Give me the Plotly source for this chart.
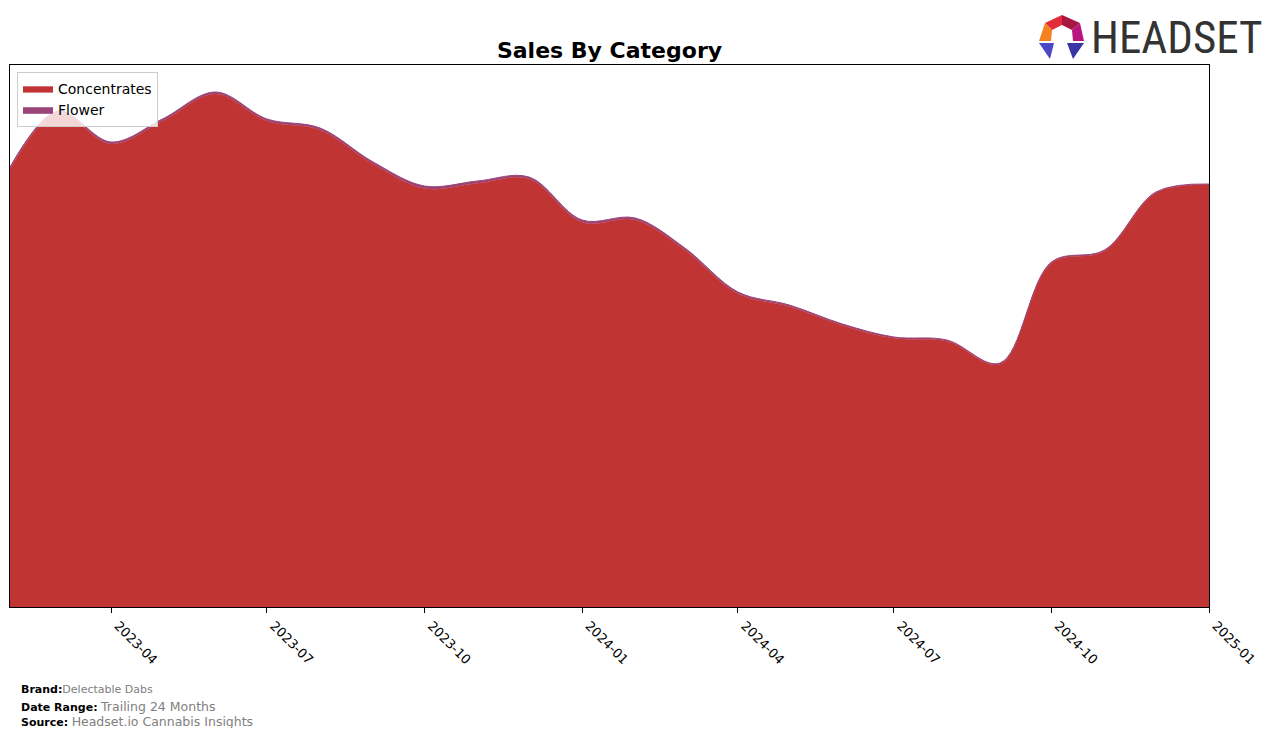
import plotly.graph_objects as go

# ---- data ----
months = ["2023-02-01", "2023-03-01", "2023-04-01", "2023-05-01", "2023-06-01", "2023-07-01",
          "2023-08-01", "2023-09-01", "2023-10-01", "2023-11-01", "2023-12-01", "2024-01-01",
          "2024-02-01", "2024-03-01", "2024-04-01", "2024-05-01", "2024-06-01", "2024-07-01",
          "2024-08-01", "2024-09-01", "2024-10-01", "2024-11-01", "2024-12-01", "2025-01-01"]
concentrates = [43800, 49400, 46300, 48600, 51300, 48600,
                47700, 44300, 41850, 42380, 42800, 38480,
                38700, 35700, 31330, 30040, 28160, 26870,
                26570, 24280, 34380, 35590, 41410, 42210]
flower = [200, 200, 200, 200, 200, 200,
          200, 200, 250, 220, 200, 220,
          200, 200, 170, 160, 140, 130,
          130, 120, 120, 110, 90, 90]
tick_vals = ["2023-04-01", "2023-07-01", "2023-10-01", "2024-01-01",
             "2024-04-01", "2024-07-01", "2024-10-01", "2025-01-01"]
tick_text = ["2023-04", "2023-07", "2023-10", "2024-01",
             "2024-04", "2024-07", "2024-10", "2025-01"]

OFF = 8  # page body margin
W, H = 1258, 720
# plot area in reference (window) pixels
RL, RR, RT, RB = 10, 1209, 65, 607
L, R, T, B = RL - OFF, RR - OFF, RT - OFF, RB - OFF


def toxp(x):  # reference window px -> plot-area paper x
    return (x - RL) / (RR - RL)


def toyp(y):  # reference window px -> plot-area paper y
    return (RB - y) / (RB - RT)


fig = go.Figure()
fig.add_trace(go.Scatter(x=months, y=concentrates, name="Concentrates", stackgroup="one",
                         mode="lines", line=dict(shape="spline", smoothing=1.0, width=0.5, color="#c13434"),
                         fillcolor="#c13434"))
fig.add_trace(go.Scatter(x=months, y=flower, name="Flower", stackgroup="one",
                         mode="lines", line=dict(shape="spline", smoothing=1.0, width=1, color="#9b4479"),
                         fillcolor="#9b4479"))

fig.update_layout(
    width=W, height=H,
    margin=dict(l=L, r=W - R, t=T, b=H - B, pad=0),
    plot_bgcolor="white", paper_bgcolor="white",
    font=dict(family="DejaVu Sans", color="black", size=13),
    title=dict(text="<b>Sales By Category</b>", x=(L + R) / 2 / W, xanchor="center",
               y=1 - (50 - OFF) / H, yanchor="middle", font=dict(size=22, family="DejaVu Sans")),
    showlegend=True,
    legend=dict(x=toxp(17), y=toyp(72), xanchor="left", yanchor="top", traceorder="normal",
                bgcolor="rgba(255,255,255,0.8)", bordercolor="#cccccc", borderwidth=1,
                tracegroupgap=0, font=dict(size=14, family="DejaVu Sans")),
    xaxis=dict(type="date", range=["2023-02-01", "2025-01-01"], tickvals=tick_vals, ticktext=tick_text,
               tickangle=45, ticks="outside", ticklen=5, tickcolor="black", showgrid=False,
               showline=True, linecolor="black", linewidth=1, mirror=True, zeroline=False,
               ticklabelshift=7, tickfont=dict(size=13, family="DejaVu Sans")),
    yaxis=dict(range=[0, 54200], showticklabels=False, ticks="", showgrid=False,
               showline=True, linecolor="black", linewidth=1, mirror=True, zeroline=False),
)

# footer
footer = [
    (689, "Brand:", "Delectable Dabs", 11, ""),
    (706, "Date Range:", "Trailing 24 Months", 12.5, " "),
    (721, "Source:", "Headset.io Cannabis Insights", 12.5, " "),
]
for y, lab, val, vs, sep in footer:
    fig.add_annotation(xref="paper", yref="paper", x=toxp(19), y=toyp(y), xanchor="left", yanchor="middle",
                       showarrow=False,
                       text=f"<b>{lab}</b>{sep}<span style='color:#808080;font-size:{vs}px'>{val}</span>",
                       font=dict(size=11, family="DejaVu Sans", color="black"))

# logo icon
polys = [
    ([(1045, 23), (1062, 15), (1062, 25), (1052, 30)], "#e32b3a"),
    ([(1062, 15), (1080, 23), (1072, 30), (1062, 25)], "#a8173f"),
    ([(1045, 23), (1052, 30), (1051, 41), (1039, 41)], "#f5821f"),
    ([(1080, 23), (1084, 41), (1073, 41), (1072, 30)], "#b8157d"),
    ([(1039, 43), (1054, 43), (1050, 59)], "#4b48c6"),
    ([(1067, 43), (1084, 43), (1073, 59)], "#3a36a8"),
]
for pts, col in polys:
    path = "M " + " L ".join(f"{toxp(x):.5f},{toyp(y):.5f}" for x, y in pts) + " Z"
    fig.add_shape(type="path", xref="paper", yref="paper", path=path,
                  fillcolor=col, line=dict(width=0), layer="above")

fig.add_annotation(xref="paper", yref="paper", x=toxp(1089), y=toyp(38), xanchor="left", yanchor="middle",
                   showarrow=False, text="HEADSET",
                   font=dict(size=45, family="Liberation Sans Narrow, Roboto Condensed, Roboto", color="#333333"))

fig.write_html("out.html")
